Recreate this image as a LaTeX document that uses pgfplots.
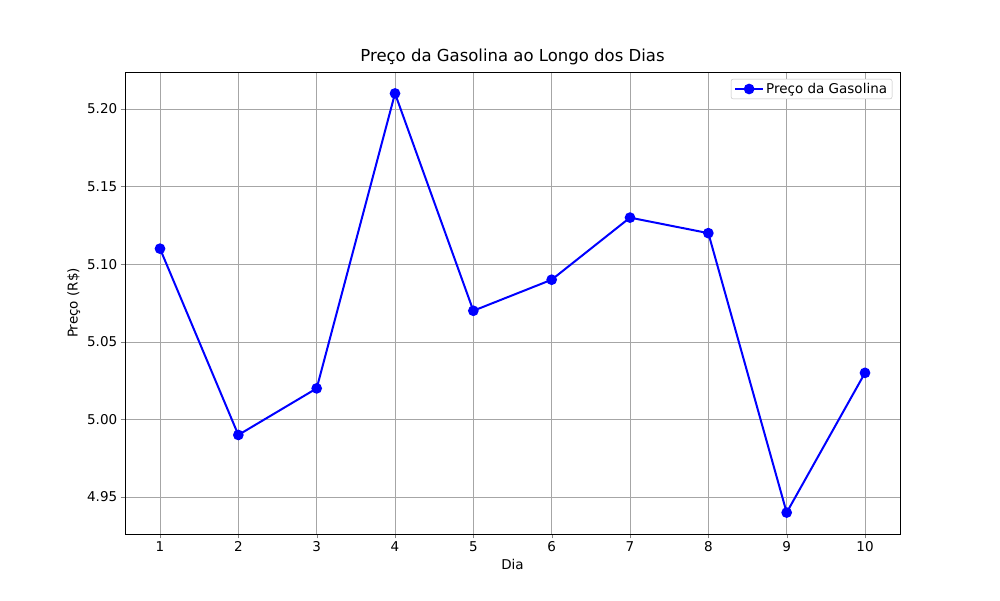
\documentclass[border=0pt]{standalone}
\usepackage{pgfplots}
\pgfplotsset{compat=1.18}
\usepackage{fontspec}
\setmainfont{DejaVu Sans}
\begin{document}
\begin{tikzpicture}
\path[use as bounding box] (-125pt,-66pt) rectangle (875pt,534pt);
\begin{axis}[at={(0,0)},anchor=south west,scale only axis,width=775pt,height=462pt,
 xmin=0.553,xmax=10.447,ymin=4.9262,ymax=5.2238,
 xtick={1,...,10},ytick={4.95,5.00,...,5.21},
 yticklabel style={/pgf/number format/.cd,fixed,fixed zerofill,precision=2},
 /pgf/number format/assume math mode=true,
 tick label style={font=\fontsize{13.5}{16}\selectfont},
 label style={font=\fontsize{13.5}{16}\selectfont},
 grid=major,grid style={gray!70},
 tick align=outside,tick pos=left,
 xlabel={Dia},ylabel={Preço (R\$)},
 title={Preço da Gasolina ao Longo dos Dias},
 title style={font=\fontsize{16.5}{19}\selectfont,yshift=-2pt},
 legend style={at={(0.99,0.985)},anchor=north east,font=\fontsize{13.5}{16}\selectfont,draw=gray!50,rounded corners=2pt},
 legend image code/.code={\draw[#1] (0pt,0pt) -- (28pt,0pt); \draw[#1,only marks] plot coordinates {(14pt,0pt)};},
 legend cell align=left]
\addplot[blue,line width=2pt,mark=*,mark size=4.3pt] coordinates {(1,5.11)(2,4.99)(3,5.02)(4,5.21)(5,5.07)(6,5.09)(7,5.13)(8,5.12)(9,4.94)(10,5.03)};
\addlegendentry{Preço da Gasolina}
\end{axis}
\end{tikzpicture}
\end{document}
